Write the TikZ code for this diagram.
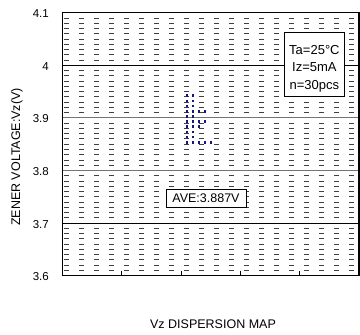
\documentclass[tikz,border=0pt]{standalone}
\usepackage{fontspec}
\setmainfont{Liberation Sans}
\usepackage{tikz}
\usetikzlibrary{positioning}
\definecolor{navy}{RGB}{20,20,130}

\begin{document}
\begin{tikzpicture}[x=1pt,y=1pt]
\tikzstyle{frame}=[draw=black, line width=1.1pt]
\tikzstyle{major}=[draw=black, line width=0.8pt]
\tikzstyle{majorgray}=[draw=black!55, line width=0.8pt]
\tikzstyle{minor}=[draw=black!75, line width=0.9pt, dash pattern=on 5pt off 10pt]
\tikzstyle{ticklabel}=[anchor=east, inner sep=0pt, font=\fontsize{11.5}{12}\selectfont]
\tikzstyle{title}=[inner sep=0pt, font=\fontsize{12.5}{14}\selectfont]
\tikzstyle{infobox}=[rectangle, draw=black, line width=0.9pt, fill=white]
\tikzstyle{unit}=[rectangle, fill=navy, inner sep=0pt, minimum size=2.6pt]
\useasboundingbox (0,0) rectangle (360,335);
\fill[white] (0,0) rectangle (360,335);
\begin{scope}[shift={(62.5,59.3)}, y=5.26pt]
	\foreach \k in {1,...,49}{
		\pgfmathtruncatemacro\m{mod(\k,10)}
		\ifnum\m>0 \draw[minor] (1.5,\k) -- (296.5,\k); \fi
	}
	\draw[major] (0,40) -- (296.5,40);
	\draw[majorgray] (0,30) -- (296.5,30);
	\draw[majorgray] (0,20) -- (296.5,20);
	\draw[major] (0,10) -- (296.5,10);
	\foreach \i in {1,...,4}
		\draw[major] (59.3*\i,0) -- (59.3*\i,0.8);
	\draw[frame] (0,0) rectangle (296.5,50);
	\foreach \v/\k in {4.1/50,4/40,3.9/30,3.8/20,3.7/10,3.6/0}
		\node[ticklabel] (t\k) at (-13.5,\k-0.2) {\v};
\end{scope}
	\foreach \n [count=\i from 0] in {2,2,2,4,2,4,3,2,2,5}
		\foreach \j in {1,...,\n}
			\node[unit] (u\i-\j) at (181+6*\j,239.3-5.18*\i) {};

	\node[infobox, minimum width=60.7pt, minimum height=64pt] (legend) at (314.4,270.3) {};
	\node[align=center, inner sep=0pt, font=\fontsize{13}{17.5}\selectfont] (conditions) at (314.4,266.3) {Ta=25°C\\Iz=5mA\\n=30pcs};
	\node[infobox, minimum width=80pt, minimum height=18pt, inner sep=0pt, font=\fontsize{12.5}{14}\selectfont] (average) at (206,137) {AVE:3.887V};

	\node[title, rotate=90] (ytitle) at (17,178) {ZENER VOLTAGE:Vz(V)};
	\node[title] (xtitle) at (213,11) {Vz DISPERSION MAP};
\end{tikzpicture}
\end{document}
